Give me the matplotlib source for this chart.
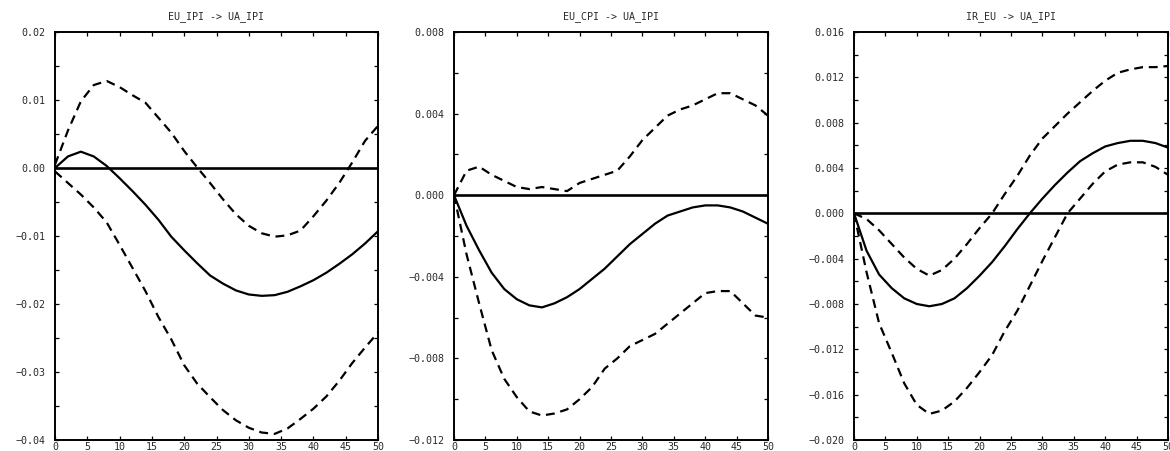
import matplotlib
matplotlib.use("Agg")
import matplotlib.pyplot as plt
from matplotlib.ticker import MultipleLocator, FuncFormatter

# Impulse responses of UA_IPI (point estimate with upper/lower confidence bands)
horizon = list(range(0, 51, 2))

titles = ["EU_IPI -> UA_IPI", "EU_CPI -> UA_IPI", "IR_EU -> UA_IPI"]

eu_ipi_resp = [0.0, 0.0017, 0.0024, 0.0017, 0.0003, -0.0015, -0.0034, -0.0054,
               -0.0076, -0.0101, -0.0121, -0.0140, -0.0158, -0.0170, -0.0180,
               -0.0186, -0.0188, -0.0187, -0.0182, -0.0174, -0.0165, -0.0154,
               -0.0141, -0.0127, -0.0111, -0.0093]
eu_ipi_upper = [0.0005, 0.0055, 0.0098, 0.0122, 0.0128, 0.0119, 0.0107, 0.0096,
                0.0074, 0.0052, 0.0025, 0.0001, -0.0022, -0.0046, -0.0068,
                -0.0085, -0.0096, -0.0101, -0.0099, -0.0092, -0.0071, -0.0048,
                -0.0022, 0.0008, 0.0040, 0.0062]
eu_ipi_lower = [-0.0005, -0.0022, -0.0039, -0.0058, -0.0080, -0.0113, -0.0147,
                -0.0181, -0.0219, -0.0252, -0.0290, -0.0317, -0.0337, -0.0356,
                -0.0371, -0.0382, -0.0389, -0.0391, -0.0383, -0.0369, -0.0354,
                -0.0336, -0.0313, -0.0287, -0.0264, -0.0242]

eu_cpi_resp = [0.0, -0.0015, -0.0027, -0.0038, -0.0046, -0.0051, -0.0054,
               -0.0055, -0.0053, -0.0050, -0.0046, -0.0041, -0.0036, -0.0030,
               -0.0024, -0.0019, -0.0014, -0.0010, -0.0008, -0.0006, -0.0005,
               -0.0005, -0.0006, -0.0008, -0.0011, -0.0014]
eu_cpi_upper = [0.0, 0.0012, 0.0014, 0.0010, 0.0007, 0.0004, 0.0003, 0.0004,
                0.0003, 0.0002, 0.0006, 0.0008, 0.0010, 0.0012, 0.0019, 0.0027,
                0.0033, 0.0039, 0.0042, 0.0044, 0.0047, 0.0050, 0.0050, 0.0047,
                0.0044, 0.0039]
eu_cpi_lower = [0.0, -0.0029, -0.0053, -0.0076, -0.0090, -0.0099, -0.0106,
                -0.0108, -0.0107, -0.0105, -0.0100, -0.0094, -0.0085, -0.0080,
                -0.0074, -0.0071, -0.0068, -0.0063, -0.0058, -0.0053, -0.0048,
                -0.0047, -0.0047, -0.0053, -0.0059, -0.0060]

ir_eu_resp = [0.0, -0.0033, -0.0054, -0.0066, -0.0075, -0.0080, -0.0082,
              -0.0080, -0.0075, -0.0066, -0.0055, -0.0043, -0.0029, -0.0014,
              0.0000, 0.0013, 0.0025, 0.0036, 0.0046, 0.0053, 0.0059, 0.0062,
              0.0064, 0.0064, 0.0062, 0.0058]
ir_eu_upper = [0.0, -0.0005, -0.0015, -0.0027, -0.0039, -0.0049, -0.0055,
               -0.0050, -0.0040, -0.0027, -0.0013, 0.0000, 0.0017, 0.0033,
               0.0051, 0.0066, 0.0077, 0.0088, 0.0098, 0.0108, 0.0117, 0.0124,
               0.0127, 0.0129, 0.0129, 0.0130]
ir_eu_lower = [0.0, -0.0052, -0.0097, -0.0123, -0.0150, -0.0169, -0.0177,
               -0.0174, -0.0166, -0.0154, -0.0140, -0.0125, -0.0104, -0.0086,
               -0.0064, -0.0042, -0.0021, 0.0000, 0.0013, 0.0026, 0.0037,
               0.0043, 0.0045, 0.0045, 0.0041, 0.0034]

y_limits = [(-0.04, 0.02), (-0.012, 0.008), (-0.020, 0.016)]
y_major = [0.01, 0.004, 0.004]
y_minor = [0.005, 0.002, 0.002]
y_decimals = [2, 3, 3]

responses = [eu_ipi_resp, eu_cpi_resp, ir_eu_resp]
uppers = [eu_ipi_upper, eu_cpi_upper, ir_eu_upper]
lowers = [eu_ipi_lower, eu_cpi_lower, ir_eu_lower]

plt.rcParams["font.family"] = ["DejaVu Sans Mono", "DejaVu Sans"]

W, H = 1170, 451
fig = plt.figure(figsize=(W / 100, H / 100), dpi=100)

# axes boxes in pixels: left, top, right, bottom
boxes = [(55, 32, 378, 440), (454, 32, 768, 440), (854, 32, 1168, 440)]

text_color = "#2a2a2a"
dash = (0, (4, 2.6))

for i in range(3):
    l, t, r, b = boxes[i]
    ax = fig.add_axes([l / W, 1 - b / H, (r - l) / W, (b - t) / H])
    ax.plot(horizon, responses[i], color="black", lw=1.6, solid_capstyle="round")
    ax.plot(horizon, uppers[i], color="black", lw=1.6, linestyle=dash)
    ax.plot(horizon, lowers[i], color="black", lw=1.6, linestyle=dash)
    ax.axhline(0, color="black", lw=1.9)

    ax.set_xlim(0, 50)
    ax.set_ylim(*y_limits[i])
    ax.xaxis.set_major_locator(MultipleLocator(5))
    ax.yaxis.set_major_locator(MultipleLocator(y_major[i]))
    ax.yaxis.set_minor_locator(MultipleLocator(y_minor[i]))

    d = y_decimals[i]
    ax.yaxis.set_major_formatter(
        FuncFormatter(lambda v, p, d=d: ("\u2212" if round(v, d) < 0 else "")
                      + f"{abs(round(v, d)):.{d}f}"))

    ax.tick_params(which="both", direction="in", top=True, right=True,
                   width=0.9, length=3, colors="black", labelcolor=text_color,
                   labelsize=7.2)
    ax.tick_params(axis="x", pad=1.2)
    ax.tick_params(axis="y", pad=7)
    for sp in ax.spines.values():
        sp.set_linewidth(1.4)
    ax.set_title(titles[i], fontsize=7.2, color=text_color, pad=9)

fig.savefig("out.png", dpi=100)
